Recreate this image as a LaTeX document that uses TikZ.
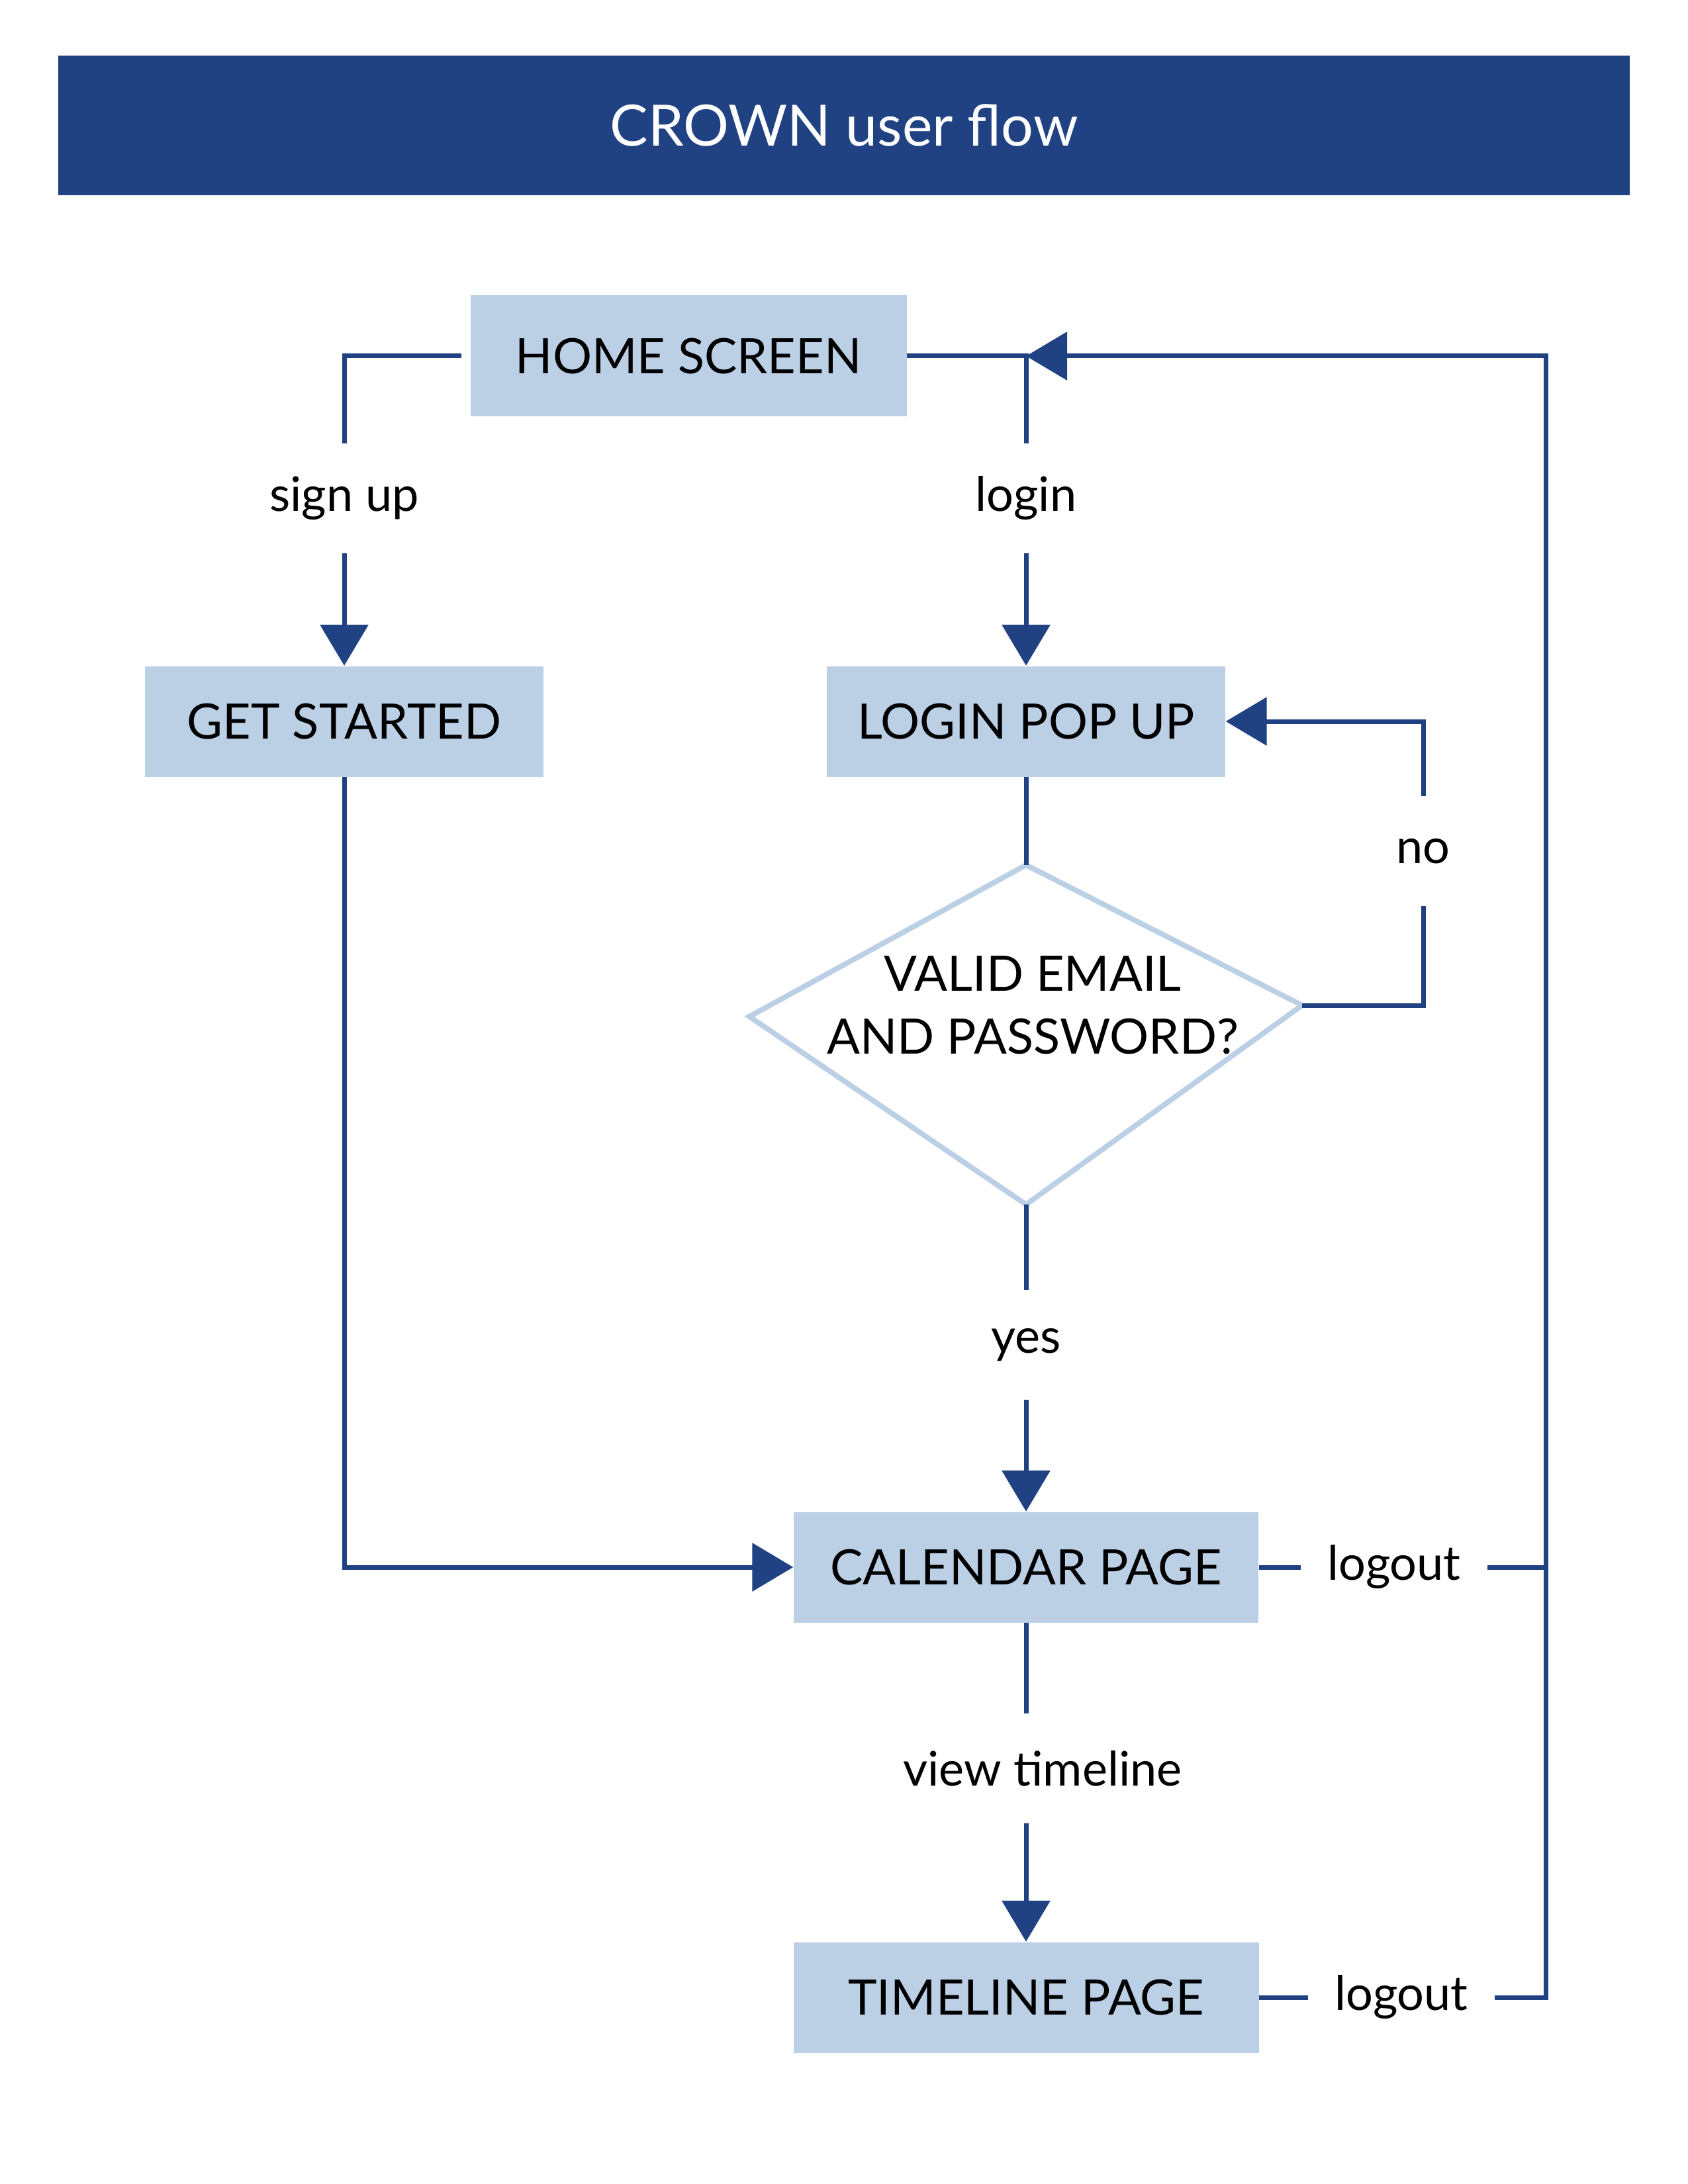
\documentclass[tikz,border=0pt]{standalone}
\usepackage{fontspec}
\setmainfont{Lato}
\usetikzlibrary{arrows.meta}
\definecolor{crownblue}{RGB}{33,66,130}
\definecolor{paleblue}{RGB}{187,207,229}
\newcommand\screenfont{\fontsize{21}{27}\selectfont}
\begin{document}
\begin{tikzpicture}[
    screen/.style={fill=paleblue,minimum height=1.67cm,inner sep=0,font=\screenfont},
    choice/.style={draw=paleblue,line width=0.08cm,line join=miter},
    tag/.style={font=\fontsize{20.5}{25}\selectfont,minimum height=1.65cm,inner xsep=0.4cm,inner ysep=0},
    link/.style={draw=crownblue,line width=0.07cm},
    flow/.style={link,-{Triangle[length=6.2mm,width=7.2mm]}}]
    \useasboundingbox (0,0) rectangle (25.5,-33);
    \node[fill=crownblue,text=white,minimum width=23.74cm,minimum height=2.11cm,
      font=\fontsize{24.5}{29}\selectfont] (title) at (12.75,-1.895) {CROWN user flow};
    \node[screen,minimum width=6.59cm,minimum height=1.83cm] (home) at (10.40,-5.38) {HOME SCREEN};
    \node[screen,minimum width=6.02cm] (start) at (5.20,-10.90) {GET STARTED};
    \node[screen,minimum width=6.02cm] (popup) at (15.5,-10.90) {LOGIN POP UP};
    \coordinate (vtop) at (15.5,-13.07);
    \coordinate (vright) at (19.67,-15.19);
    \coordinate (vbottom) at (15.5,-18.20);
    \coordinate (vleft) at (11.32,-15.36);
    \draw[choice] (vtop) -- (vright) -- (vbottom) -- (vleft) -- cycle;
    \node[screen,fill=none,align=center] (valid) at (15.6,-15.19) {VALID EMAIL\\AND PASSWORD?};
    \node[screen,minimum width=7.02cm] (calendar) at (15.5,-23.68) {CALENDAR PAGE};
    \node[screen,minimum width=7.03cm] (timeline) at (15.5,-30.18) {TIMELINE PAGE};
    \path (5.20,-7.53) node[tag] (signup) {sign up}
      (15.5,-7.53) node[tag] (login) {login}
      (21.5,-12.86) node[tag] (no) {no}
      (15.5,-20.32) node[tag] (yes) {yes}
      (15.75,-26.72) node[tag] (view) {view timeline}
      (21.06,-23.68) node[tag] (out1) {logout}
      (21.17,-30.18) node[tag] (out2) {logout};
    \coordinate (bus) at (23.35,-5.38);
    \draw[link,shorten <=0.13cm] (home.west) -| (signup.north);
    \draw[flow] (signup.south) -- (start.north);
    \draw[link] (home.east) -| (login.north);
    \draw[flow] (login.south) -- (popup.north);
    \draw[link] (popup.south) -- (vtop);
    \draw[link] (vright) -| (no.south);
    \draw[flow] (no.north) |- (popup.east);
    \draw[link] (vbottom) -- (yes.north);
    \draw[flow] (yes.south) -- (calendar.north);
    \draw[flow] (start.south) |- (calendar.west);
    \draw[link] (calendar.south) -- (calendar.south |- view.north);
    \draw[flow] (calendar.south |- view.south) -- (timeline.north);
    \draw[link] (calendar.east) -- (out1.west);
    \draw[link] (out1.east) -- (out1.east -| bus);
    \draw[link] (timeline.east) -- (out2.west);
    \draw[flow] (out2.east) -| (bus) -- (home.east -| login);
\end{tikzpicture}
\end{document}
